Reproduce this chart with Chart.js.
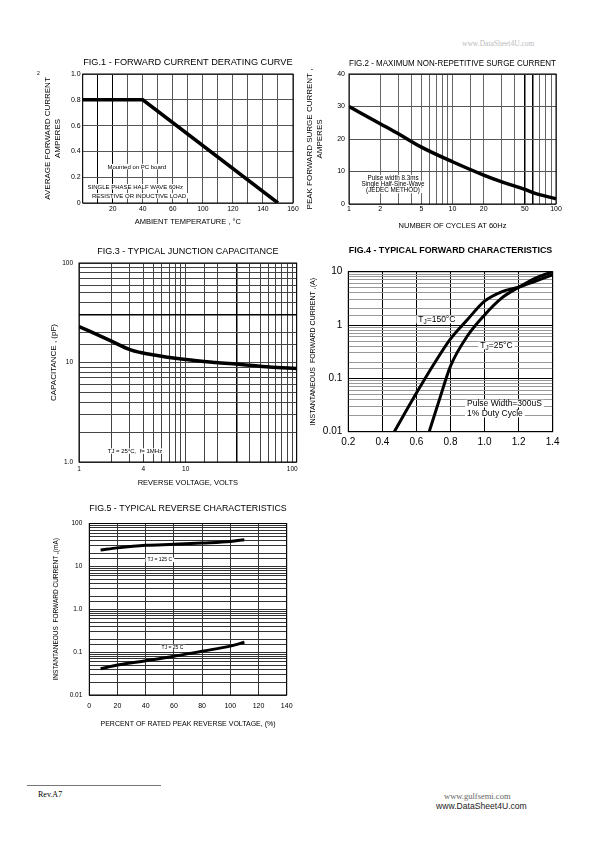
<!DOCTYPE html>
<html>
<head>
<meta charset="utf-8">
<script src="https://cdn.jsdelivr.net/npm/chart.js@4.4.1/dist/chart.umd.min.js"></script>
<style>
    body { margin: 0; background: #fff; }
    #page { position: relative; width: 595px; height: 842px; overflow: hidden; font-family: 'Liberation Sans', Arial, sans-serif; }
    #page canvas { position: absolute; }
    .txt { position: absolute; white-space: nowrap; line-height: 1; }
</style>
</head>
<body>
<div id="page">
    <canvas id="fig1"></canvas>
    <canvas id="fig2"></canvas>
    <canvas id="fig3"></canvas>
    <canvas id="fig4"></canvas>
    <canvas id="fig5"></canvas>

    <div class="txt" style="left:37px;top:71px;font-size:5px;">2</div>
    <div class="txt" style="left:462px;top:40px;font-size:7.5px;color:#bbb;font-family:'Liberation Serif',serif;">www.DataSheet4U.com</div>
    <div style="position:absolute;left:27px;top:785px;width:134px;height:1px;background:#777;"></div>
    <div class="txt" style="left:38px;top:791px;font-size:8px;font-family:'Liberation Serif',serif;">Rev.A7</div>
    <div class="txt" style="left:444px;top:792px;font-size:8.5px;color:#666;font-family:'Liberation Serif',serif;">www.gulfsemi.com</div>
    <div class="txt" style="left:436px;top:802px;font-size:8.6px;color:#222;">www.DataSheet4U.com</div>
</div>
<script>
// Fig.1 - derating curve. x is the position on the printed grid (the sheet's labels skip "80")
const fig1Temp = [0, 40, 130];
const fig1Amps = [0.8, 0.8, 0];
const fig1XTicks = [20, 40, 60, 80, 100, 120, 140];
const fig1XLabels = ['20', '40', '60', '100', '120', '140', '160'];
const fig1YTicks = [0, 0.2, 0.4, 0.6, 0.8, 1.0];
const fig1YLabels = ['0', '0.2', '0.4', '0.6', '0.8', '1.0'];

// Fig.2 - surge current
const fig2Cycles = [1, 2, 3, 5, 10, 20, 30, 50, 60, 100];
const fig2Amps = [30, 24.7, 21.6, 17.5, 13, 8.9, 6.8, 4.5, 3.5, 1.6];
const fig2XTicks = [1, 2, 5, 10, 20, 50, 100];
const fig2XLabels = ['1', '2', '5', '10', '20', '50', '100'];
const fig2YTicks = [0, 10, 20, 30, 40];
const fig2YLabels = ['0', '10', '20', '30', '40'];

// Fig.3 - junction capacitance
const fig3Volts = [1, 1.9, 3.1, 4.6, 10, 19, 33, 61, 110];
const fig3Pf = [23, 16.9, 13.3, 12.1, 10.7, 10, 9.55, 9.0, 8.7];
const fig3XTicks = [1, 4, 10, 100];
const fig3XLabels = ['1', '4', '10', '100'];
const fig3YTicks = [1, 10, 100];
const fig3YLabels = ['1.0', '10', '100'];

// Fig.4 - forward characteristics
const fig4Volts150 = [0.47, 0.6, 0.7, 0.8, 0.9, 1.0, 1.1, 1.2, 1.3, 1.4];
const fig4Amps150 = [0.01, 0.053, 0.18, 0.55, 1.27, 2.8, 4.2, 5.1, 6.7, 8.8];
const fig4Volts25 = [0.675, 0.74, 0.8, 0.9, 1.0, 1.1, 1.2, 1.3, 1.4];
const fig4Amps25 = [0.01, 0.045, 0.17, 0.63, 1.55, 3.2, 5.1, 7.6, 10];
const fig4XTicks = [0.2, 0.4, 0.6, 0.8, 1.0, 1.2, 1.4];
const fig4XLabels = ['0.2', '0.4', '0.6', '0.8', '1.0', '1.2', '1.4'];
const fig4YTicks = [0.01, 0.1, 1, 10];
const fig4YLabels = ['0.01', '0.1', '1', '10'];

// Fig.5 - reverse characteristics
const fig5Pct = [8, 20, 40, 60, 80, 100, 110];
const fig5Ma125 = [24, 27, 31, 32.7, 35, 38, 42];
const fig5Ma25 = [0.041, 0.05, 0.063, 0.08, 0.105, 0.138, 0.17];
const fig5XTicks = [0, 20, 40, 60, 80, 100, 120, 140];
const fig5XLabels = ['0', '20', '40', '60', '80', '100', '120', '140'];
const fig5YTicks = [0.01, 0.1, 1, 10, 100];
const fig5YLabels = ['0.01', '0.1', '1.0', '10', '100'];

const FONT = "'Liberation Sans', Arial, sans-serif";

const near = (v, t) => Math.abs(v - t) <= Math.abs(t) * 1e-6 + 1e-9;
const labelFor = (values, labels) => v => {
    const i = values.findIndex(t => near(v, t));
    return i < 0 ? '' : labels[i];
};
const points = (xs, ys) => xs.map((x, i) => ({ x, y: ys[i] }));

// notes with white backing + plot frame, drawn over the grid but under the curves
const notesPlugin = {
    id: 'notes',
    beforeDatasetsDraw(chart, args, opts) {
        const { ctx, chartArea: a, scales } = chart;
        ctx.save();
        (opts.items || []).forEach(n => {
            const parts = n.parts || [[n.text]];
            const px = scales.x.getPixelForValue(n.x);
            const py = scales.y.getPixelForValue(n.y);
            const fontOf = sub => `${sub ? n.size * 0.75 : n.size}px ${FONT}`;
            const widths = parts.map(([t, sub]) => { ctx.font = fontOf(sub); return ctx.measureText(t).width; });
            const w = widths.reduce((s, v) => s + v, 0);
            let x0 = n.align === 'left' ? px : px - w / 2;
            if (n.bg !== false) {
                ctx.fillStyle = '#fff';
                ctx.fillRect(x0 - 2, py - n.size * 0.5, w + 4, n.size * 0.9);
            }
            ctx.fillStyle = '#000';
            ctx.textAlign = 'left';
            ctx.textBaseline = 'middle';
            parts.forEach(([t, sub], i) => {
                ctx.font = fontOf(sub);
                ctx.fillText(t, x0, sub ? py + n.size * 0.3 : py);
                x0 += widths[i];
            });
        });
        ctx.strokeStyle = '#000';
        ctx.lineWidth = 1;
        ctx.strokeRect(a.left, a.top, a.right - a.left, a.bottom - a.top);
        ctx.restore();
    }
};

const curve = (data, width) => ({
    data,
    borderColor: '#000',
    borderWidth: width || 3,
    pointRadius: 0,
    fill: false,
    cubicInterpolationMode: 'monotone'
});

// Build one figure; cv = canvas box on the page, plot = plot area on the page
const figure = (o) => {
    const c = document.getElementById(o.id);
    c.width = o.cv.w;
    c.height = o.cv.h;
    c.style.left = o.cv.x + 'px';
    c.style.top = o.cv.y + 'px';

    const padTop = o.title.y - o.cv.y - o.title.size / 2;
    const cvBottom = o.cv.y + o.cv.h;

    const axis = (a, pos) => {
        const lh = a.titleSize * (a.titleLine || 1.25);
        const titlePad = pos === 'left'
            ? { top: a.titleAt - o.cv.x - lh / 2, bottom: 0 }
            : { top: 0, bottom: cvBottom - a.titleAt - lh / 2 };
        return {
            type: a.type,
            position: pos,
            min: a.min,
            max: a.max,
            afterFit: s => {
                if (pos === 'left') s.width = o.plot.l - o.cv.x;
                else s.height = cvBottom - o.plot.b;
            },
            grid: { color: a.gridColor || '#444', lineWidth: a.gridWidth || 1, drawTicks: false },
            border: { display: false },
            ticks: {
                autoSkip: false,
                maxRotation: 0,
                stepSize: a.step,
                padding: a.pad,
                color: '#000',
                font: { family: FONT, size: a.size, lineHeight: 1 },
                callback: a.label
            },
            title: {
                display: !!a.title,
                text: a.title,
                color: '#000',
                font: { family: FONT, size: a.titleSize, lineHeight: a.titleLine || 1.25 },
                padding: titlePad
            }
        };
    };

    return new Chart(c, {
        type: 'line',
        data: { datasets: o.datasets },
        plugins: [notesPlugin],
        options: {
            responsive: false,
            animation: false,
            events: [],
            layout: { padding: { left: 0, top: 0, bottom: 0, right: o.cv.x + o.cv.w - o.plot.r } },
            scales: { x: axis(o.x, 'bottom'), y: axis(o.y, 'left') },
            plugins: {
                legend: { display: false },
                tooltip: { enabled: false },
                title: {
                    display: true,
                    text: o.title.text,
                    fullSize: false,
                    color: '#000',
                    font: { family: FONT, size: o.title.size, weight: o.title.weight || 'normal', lineHeight: 1 },
                    padding: { top: padTop, bottom: o.plot.t - o.cv.y - padTop - o.title.size }
                },
                notes: { items: o.notes || [] }
            }
        }
    });
};

figure({
    id: 'fig1',
    cv: { x: 28, y: 54, w: 277, h: 180 },
    plot: { l: 82.7, t: 74, r: 293, b: 203 },
    title: { text: 'FIG.1 - FORWARD CURRENT DERATING CURVE', y: 62, size: 9.2 },
    x: {
        type: 'linear', min: 0, max: 140, step: 10, size: 6.8, pad: 2.6,
        label: labelFor(fig1XTicks, fig1XLabels),
        gridColor: ctx => (near(ctx.tick.value, 10) || near(ctx.tick.value, 20)) ? '#000' : '#555',
        title: 'AMBIENT TEMPERATURE , °C', titleSize: 7.5, titleAt: 222
    },
    y: {
        type: 'linear', min: 0, max: 1, step: 0.2, size: 7, pad: 2,
        label: labelFor(fig1YTicks, fig1YLabels),
        gridColor: '#555',
        title: ['AVERAGE FORWARD CURRENT', 'AMPERES'], titleSize: 8, titleAt: 48
    },
    datasets: [Object.assign(curve(points(fig1Temp, fig1Amps), 3.5), { cubicInterpolationMode: 'default', tension: 0 })],
    notes: [
        { text: 'Mounted on PC board', x: 36, y: 0.28, size: 6 },
        { text: 'SINGLE PHASE HALF WAVE 60Hz', x: 35, y: 0.124, size: 6 },
        { text: 'RESISTIVE OR INDUCTIVE LOAD', x: 37.5, y: 0.054, size: 6 }
    ]
});

figure({
    id: 'fig2',
    cv: { x: 305, y: 54, w: 265, h: 182 },
    plot: { l: 349, t: 74, r: 556, b: 204 },
    title: { text: 'FIG.2 - MAXIMUM NON-REPETITIVE SURGE CURRENT', y: 63, size: 9.3 },
    x: {
        type: 'logarithmic', min: 1, max: 100, size: 7, pad: 2,
        label: labelFor(fig2XTicks, fig2XLabels),
        gridColor: ctx => (near(ctx.tick.value, 50) || near(ctx.tick.value, 60)) ? '#000' : '#666',
        gridWidth: ctx => (near(ctx.tick.value, 50) || near(ctx.tick.value, 60)) ? 1.5 : 1,
        title: 'NUMBER OF CYCLES AT 60Hz', titleSize: 7.5, titleAt: 226
    },
    y: {
        type: 'linear', min: 0, max: 40, step: 10, size: 7, pad: 4,
        label: labelFor(fig2YTicks, fig2YLabels),
        gridColor: '#555',
        title: ['PEAK FORWARD SURGE CURRENT ,', 'AMPERES'], titleSize: 8, titleAt: 310
    },
    datasets: [curve(points(fig2Cycles, fig2Amps), 3.5)],
    notes: [
        { text: 'Pulse width 8.3ms', x: 2.66, y: 8.0, size: 6.3 },
        { text: 'Single Half-Sine-Wave', x: 2.66, y: 6.15, size: 6.3 },
        { text: '(JEDEC METHOD)', x: 2.66, y: 4.1, size: 6.3 }
    ]
});

figure({
    id: 'fig3',
    cv: { x: 40, y: 244, w: 265, h: 246 },
    plot: { l: 79, t: 263, r: 296.7, b: 462 },
    title: { text: 'FIG.3 - TYPICAL JUNCTION CAPACITANCE', y: 251.7, size: 9 },
    x: {
        type: 'logarithmic', min: 1, max: 110, size: 6.5, pad: 4,
        label: labelFor(fig3XTicks, fig3XLabels),
        gridColor: ctx => near(ctx.tick.value, 30) ? '#000' : '#444',
        gridWidth: ctx => near(ctx.tick.value, 30) ? 1.5 : 1,
        title: 'REVERSE VOLTAGE, VOLTS', titleSize: 7.5, titleAt: 483
    },
    y: {
        type: 'logarithmic', min: 1, max: 100, size: 6.5, pad: 6,
        label: labelFor(fig3YTicks, fig3YLabels),
        gridColor: ctx => near(ctx.tick.value, 30) ? '#000' : '#444',
        gridWidth: ctx => near(ctx.tick.value, 30) ? 1.5 : 1,
        title: 'CAPACITANCE , (pF)', titleSize: 8, titleAt: 53.5
    },
    datasets: [curve(points(fig3Volts, fig3Pf), 3.5)],
    notes: [
        { text: 'TJ = 25°C,  f= 1MHz', x: 3.35, y: 1.28, size: 6 }
    ]
});

figure({
    id: 'fig4',
    cv: { x: 303, y: 244, w: 265, h: 210 },
    plot: { l: 348.3, t: 271.7, r: 552.7, b: 431.7 },
    title: { text: 'FIG.4 - TYPICAL FORWARD CHARACTERISTICS', y: 250.7, size: 8.9, weight: 'bold' },
    x: {
        type: 'linear', min: 0.2, max: 1.4, step: 0.2, size: 10, pad: 6,
        label: labelFor(fig4XTicks, fig4XLabels),
        gridColor: '#000'
    },
    y: {
        type: 'logarithmic', min: 0.01, max: 10, size: 10, pad: 6,
        label: labelFor(fig4YTicks, fig4YLabels),
        gridColor: ctx => fig4YTicks.some(t => near(ctx.tick.value, t)) ? '#000' : '#999',
        title: 'INSTANTANEOUS  FORWARD CURRENT ,(A)', titleSize: 7, titleAt: 313
    },
    datasets: [
        curve(points(fig4Volts150, fig4Amps150), 3),
        curve(points(fig4Volts25, fig4Amps25), 3)
    ],
    notes: [
        { parts: [['T'], ['J', true], ['=150°C']], x: 0.72, y: 1.24, size: 8.5 },
        { parts: [['T'], ['J', true], ['=25°C']], x: 1.07, y: 0.405, size: 8.5 },
        { text: 'Pulse Width=300uS', x: 0.897, y: 0.033, size: 8.5, align: 'left' },
        { text: '1% Duty Cycle', x: 0.897, y: 0.0215, size: 8.5, align: 'left' }
    ]
});

figure({
    id: 'fig5',
    cv: { x: 40, y: 500, w: 265, h: 240 },
    plot: { l: 89.3, t: 523.5, r: 286.7, b: 695 },
    title: { text: 'FIG.5 - TYPICAL REVERSE CHARACTERISTICS', y: 509, size: 9 },
    x: {
        type: 'linear', min: 0, max: 140, step: 20, size: 7, pad: 8,
        label: labelFor(fig5XTicks, fig5XLabels),
        gridColor: '#333',
        title: 'PERCENT OF RATED PEAK REVERSE VOLTAGE, (%)', titleSize: 7, titleAt: 724
    },
    y: {
        type: 'logarithmic', min: 0.01, max: 100, size: 6.5, pad: 7,
        label: labelFor(fig5YTicks, fig5YLabels),
        gridColor: '#333',
        title: 'INSTANTANEOUS  FORWARD CURRENT ,(mA)', titleSize: 6.5, titleAt: 56
    },
    datasets: [
        curve(points(fig5Pct, fig5Ma125), 3),
        curve(points(fig5Pct, fig5Ma25), 3)
    ],
    notes: [
        { text: 'TJ = 125 C', x: 50, y: 14, size: 5 },
        { text: 'TJ = 25 C', x: 59, y: 0.13, size: 5 }
    ]
});
</script>
</body>
</html>
